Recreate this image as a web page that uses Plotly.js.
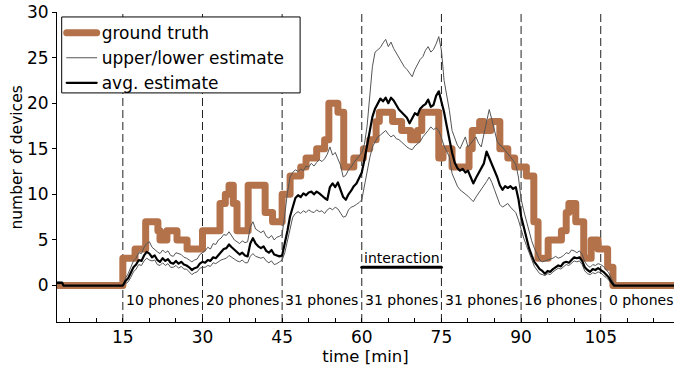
<!DOCTYPE html>
<html>
<head>
<meta charset="utf-8">
<script src="https://cdn.plot.ly/plotly-3.0.1.min.js"></script>
<style>
  html, body { margin: 0; padding: 0; background: #fff; }
  #chart { width: 674px; height: 373px; }
  #chart path.js-line { stroke-linejoin: round; stroke-linecap: round; }
</style>
</head>
<body>
<div id="chart"></div>
<script>
// Ground truth: number of devices present (step function, value holds until next time)
const truthTime  = [0, 15, 17.3, 19.3, 21.6, 22.0, 23.3, 25.2, 27.1, 30.0, 33.3, 34.3, 35.0, 35.8, 36.5, 38.6, 41.8, 43.2, 45.0, 46.5, 48.5, 49.5, 51.5, 53.0, 53.8, 55.5, 56.6, 58.5, 60.3, 61.5, 62.7, 63.3, 65.8, 67.5, 69.2, 70.5, 71.3, 74.5, 75.3, 77.0, 80.2, 80.8, 82.2, 83.0, 84.3, 86.0, 87.5, 88.8, 91.0, 92.4, 93.2, 95.1, 97.6, 98.5, 99.0, 100.3, 101.8, 103.2, 104.5, 106.3, 107.3, 118.8];
const truthCount = [0, 3, 4, 7, 6, 5, 6, 5, 4, 6, 9, 10, 11, 9, 6, 11, 8, 7, 10, 12, 13, 14, 15, 16, 20, 19, 13, 14, 15, 16, 18, 19, 18, 17, 16, 17, 19, 14, 15, 13, 15, 17, 18, 17, 18, 15, 14, 13, 12, 7, 3, 5, 6, 8, 9, 7, 3, 5, 4, 2, 0, 0];

// Sampling times of the estimates [min]
const estTime = [2.6, 3.6, 3.8, 9.0, 14.5,
  15.0, 15.5, 16.0, 16.5, 17.0, 17.5, 18.0, 18.5, 19.0, 19.5, 20.0, 20.5, 21.0, 21.5, 22.0, 22.5, 23.0, 23.5, 24.0, 24.5,
  25.0, 25.5, 26.0, 26.5, 27.0, 27.5, 28.0, 28.5, 29.0, 29.5, 30.0, 30.5, 31.0, 31.5, 32.0, 32.5, 33.0, 33.5, 34.0, 34.5,
  35.0, 35.5, 36.0, 36.5, 37.0, 37.5, 38.0, 38.5, 39.0, 39.5, 40.0, 40.5, 41.0, 41.5, 42.0, 42.5, 43.0, 43.5, 44.0, 44.5,
  45.0, 45.5, 46.0, 46.5, 47.0, 47.5, 48.0, 48.5, 49.0, 49.5, 50.0, 50.5, 51.0, 51.5, 52.0, 52.5, 53.0, 53.5, 54.0, 54.5,
  55.0, 55.5, 56.0, 56.5, 57.0, 57.5, 58.0, 58.5, 59.0, 59.5, 60.0, 60.5, 61.0, 61.5, 62.0, 62.5, 63.0, 63.5, 64.0, 64.5,
  65.0, 65.5, 66.0, 66.5, 67.0, 67.5, 68.0, 68.5, 69.0, 69.5, 70.0, 70.5, 71.0, 71.5, 72.0, 72.5, 73.0, 73.5, 74.0, 74.5,
  75.0, 75.5, 76.0, 76.5, 77.0, 77.5, 78.0, 78.5, 79.0, 79.5, 80.0, 80.5, 81.0, 81.5, 82.0, 82.5, 83.0, 83.5, 84.0, 84.5,
  85.0, 85.5, 86.0, 86.5, 87.0, 87.5, 88.0, 88.5, 89.0, 89.5, 90.0, 90.5, 91.0, 91.5, 92.0, 92.5, 93.0, 93.5, 94.0, 94.5,
  95.0, 95.5, 96.0, 96.5, 97.0, 97.5, 98.0, 98.5, 99.0, 99.5, 100.0, 100.5, 101.0, 101.5, 102.0, 102.5, 103.0, 103.5, 104.0, 104.5,
  105.0, 105.5, 106.0, 106.5, 107.0, 107.5, 108.0, 118.8];

const avgEstimate = [0.3, 0.3, 0, 0, 0,
  0.0, 0.5, 0.8, 1.4, 2.0, 2.3, 2.8, 2.7, 3.3, 3.7, 3.5, 3.1, 3.3, 2.8, 2.6, 3.0, 2.7, 2.9, 2.5, 2.4,
  2.7, 2.4, 2.6, 2.3, 2.2, 2.0, 1.7, 1.9, 2.0, 2.4, 2.6, 2.5, 2.8, 2.7, 3.1, 3.0, 3.3, 3.6, 4.0, 4.1,
  4.5, 4.2, 3.9, 3.6, 3.4, 3.6, 3.3, 3.2, 4.6, 5.2, 4.6, 4.3, 4.1, 4.3, 3.8, 3.6, 3.9, 3.4, 3.3, 3.2,
  3.3, 4.6, 6.0, 7.6, 8.6, 9.6, 9.9, 9.7, 10.1, 9.9, 10.2, 10.3, 10.0, 10.3, 10.1, 9.8, 9.6, 9.4, 10.8, 11.2,
  10.8, 11.3, 10.6, 9.7, 9.4, 10.0, 10.4, 10.9, 11.2, 11.8, 12.4, 13.8, 15.3, 16.6, 18.5, 19.4, 19.9, 20.5, 20.2, 20.6,
  20.0, 20.6, 20.3, 19.8, 19.3, 19.0, 18.7, 18.4, 17.8, 18.3, 18.9, 18.7, 19.4, 19.7, 19.9, 20.4, 19.6, 19.8, 20.8, 21.3,
  20.2, 19.0, 17.5, 16.0, 14.6, 13.5, 12.9, 12.6, 12.8, 12.4, 12.6, 11.9, 11.2, 11.8, 12.3, 12.9, 13.4, 14.7, 14.0, 13.4,
  12.5, 11.9, 11.0, 10.5, 10.9, 10.7, 10.9, 10.6, 10.8, 9.5, 7.6, 6.4, 5.2, 4.1, 3.3, 2.6, 2.2, 1.8, 1.6, 1.3,
  1.6, 1.5, 1.8, 2.0, 2.2, 2.1, 2.5, 2.6, 2.5, 2.8, 3.1, 3.0, 3.1, 2.7, 2.0, 1.7, 1.5, 1.8, 1.7, 1.9,
  1.7, 1.5, 1.2, 0.9, 0.4, 0.0, 0.0, 0.0];

const upperEstimate = [0.4, 0.4, 0, 0, 0,
  0.0, 0.8, 1.3, 2.0, 2.7, 3.0, 3.6, 3.5, 4.2, 4.6, 4.8, 4.2, 4.0, 3.7, 3.5, 3.9, 3.6, 3.8, 3.3, 3.2,
  3.6, 3.5, 3.4, 3.1, 3.0, 2.8, 2.6, 2.8, 2.9, 3.4, 3.6, 3.8, 4.2, 4.0, 4.6, 4.5, 5.0, 5.2, 5.6, 5.5,
  5.9, 5.5, 5.0, 4.8, 4.6, 4.9, 4.7, 4.8, 6.4, 7.0, 6.2, 6.0, 5.8, 6.0, 5.4, 5.2, 5.5, 5.0, 5.3, 5.4,
  5.6, 7.8, 10.2, 11.9, 12.4, 12.7, 12.5, 12.8, 12.6, 13.1, 13.0, 13.4, 13.1, 13.5, 13.8, 13.6, 13.9, 14.4, 15.2, 14.3,
  14.6, 13.9, 13.2, 11.9, 12.1, 12.7, 13.0, 13.5, 13.8, 14.2, 14.6, 15.5, 17.5, 20.5, 24.0, 25.6, 25.9, 26.1, 26.6, 27.0,
  26.2, 26.7, 26.0, 25.5, 25.1, 24.6, 24.0, 23.7, 23.3, 22.9, 23.7, 24.2, 24.8, 25.1, 25.8, 26.2, 25.6, 25.9, 26.5, 27.3,
  25.8, 22.5, 20.8, 19.2, 17.0, 16.3, 15.4, 15.0, 15.6, 16.3, 15.2, 15.6, 15.9, 16.3, 15.6, 15.2, 16.6, 18.0, 19.3, 18.2,
  16.8, 15.8, 15.4, 15.2, 14.8, 14.5, 14.1, 13.7, 13.3, 11.9, 9.5, 8.2, 7.0, 6.1, 4.9, 4.1, 3.4, 2.8, 2.6, 2.7,
  2.8, 2.9, 3.0, 3.2, 3.0, 3.1, 3.3, 3.6, 3.5, 3.9, 3.8, 3.6, 3.8, 3.4, 2.6, 2.2, 2.0, 2.3, 2.2, 2.4,
  2.3, 2.1, 1.8, 1.4, 0.8, 0.2, 0.0, 0.0];

const lowerEstimate = [0.2, 0.2, 0, 0, 0,
  0.0, 0.2, 0.4, 0.9, 1.5, 1.8, 2.3, 2.2, 2.7, 3.0, 2.8, 2.7, 2.8, 2.3, 2.2, 2.5, 2.2, 2.4, 2.0, 2.0,
  2.2, 1.9, 2.1, 1.8, 1.8, 1.5, 1.2, 1.4, 1.5, 1.9, 2.0, 2.0, 2.2, 2.1, 2.5, 2.4, 2.6, 2.8, 2.9, 3.0,
  3.3, 3.1, 2.9, 2.7, 2.6, 2.8, 2.5, 2.5, 3.2, 3.5, 3.2, 3.1, 3.0, 3.1, 2.7, 2.5, 2.7, 2.3, 2.4, 2.6,
  2.8, 3.6, 5.0, 6.5, 7.5, 7.9, 8.1, 7.9, 8.2, 8.0, 8.3, 8.1, 8.0, 8.3, 8.1, 8.2, 7.9, 8.3, 8.5, 8.3,
  8.6, 8.4, 8.0, 7.5, 7.6, 8.3, 8.6, 8.7, 8.9, 9.1, 9.4, 11.0, 12.7, 14.0, 15.2, 15.8, 16.3, 16.5, 16.8, 17.0,
  16.6, 16.3, 16.5, 16.1, 16.0, 15.7, 15.4, 15.2, 15.0, 14.9, 15.3, 15.6, 15.8, 16.3, 16.6, 17.0, 17.4, 17.1, 17.3, 17.0,
  16.2, 15.3, 14.7, 14.1, 12.3, 11.6, 10.9, 10.5, 10.3, 10.1, 9.8, 9.5, 9.2, 9.7, 10.1, 10.5, 11.0, 11.4, 11.9, 11.3,
  10.5, 9.6, 8.9, 8.6, 8.8, 9.0, 8.6, 8.3, 8.0, 7.2, 6.1, 5.2, 4.4, 3.6, 2.8, 2.1, 1.7, 1.3, 1.2, 1.1,
  1.3, 1.2, 1.5, 1.7, 1.9, 1.8, 2.1, 2.3, 2.2, 2.5, 2.7, 2.6, 2.7, 2.3, 1.6, 1.3, 1.2, 1.4, 1.3, 1.5,
  1.4, 1.1, 0.9, 0.6, 0.2, 0.0, 0.0, 0.0];

// Experiment phases: boundaries [min] and phones carried in each phase
const phaseBounds = [15, 30, 45, 60, 75, 90, 105, 120];
const phonesPerPhase = [10, 20, 31, 31, 31, 16, 0];

// Interaction period
const interactionSpan = [60, 75];
const interactionLevel = 2;

// Axis ticks
const xTickVals = [15, 30, 45, 60, 75, 90, 105];
const yTickVals = [0, 5, 10, 15, 20, 25, 30];

const FONT = 'DejaVu Sans, sans-serif';
const BROWN = '#b4724b';
const GREY = '#555555';

const traces = [
  {
    x: truthTime, y: truthCount, type: 'scatter', mode: 'lines',
    line: { color: BROWN, width: 7, shape: 'hv' },
    name: 'ground truth', legendrank: 1
  },
  {
    x: estTime, y: upperEstimate, type: 'scatter', mode: 'lines',
    line: { color: GREY, width: 1 },
    name: 'upper/lower estimate', legendrank: 2
  },
  {
    x: estTime, y: lowerEstimate, type: 'scatter', mode: 'lines',
    line: { color: GREY, width: 1 },
    name: 'upper/lower estimate', showlegend: false
  },
  {
    x: estTime, y: avgEstimate, type: 'scatter', mode: 'lines',
    line: { color: '#000000', width: 2.2 },
    name: 'avg. estimate', legendrank: 3
  },
  {
    x: interactionSpan, y: [interactionLevel, interactionLevel], type: 'scatter', mode: 'lines',
    line: { color: '#000000', width: 3 },
    showlegend: false, hoverinfo: 'skip'
  }
];

// Dashed phase separators
const shapes = phaseBounds.slice(0, -1).map(b => ({
  type: 'line', xref: 'x', yref: 'paper', x0: b, x1: b, y0: 0, y1: 1,
  line: { color: '#222222', width: 1, dash: '8px,4px' }, layer: 'below'
}));
// Framed white panel behind the legend entries
shapes.push({
  type: 'rect', xref: 'paper', yref: 'paper',
  x0: 0.0076, x1: 0.394, y0: 0.739, y1: 0.984,
  fillcolor: '#ffffff', line: { color: '#000000', width: 1 }, layer: 'above'
});

// Phase labels under the curves
const annotations = phonesPerPhase.map((n, i) => ({
  x: (phaseBounds[i] + phaseBounds[i + 1]) / 2, y: -1.6, xref: 'x', yref: 'y',
  text: n + ' phones', showarrow: false,
  font: { family: FONT, size: 14, color: '#000' }
}));
annotations.push({
  x: (interactionSpan[0] + interactionSpan[1]) / 2, y: interactionLevel + 1.0, xref: 'x', yref: 'y',
  text: 'interaction', showarrow: false,
  font: { family: FONT, size: 14, color: '#000' }
});
// Vertical axis title
annotations.push({
  x: -0.0656, y: 0.529, xref: 'paper', yref: 'paper',
  xanchor: 'center', yanchor: 'middle', textangle: -90,
  text: 'number of devices', showarrow: false,
  font: { family: FONT, size: 15.5, color: '#000' }
});

const layout = {
  width: 674, height: 373,
  margin: { l: 57, r: 0, t: 12, b: 51 },
  paper_bgcolor: '#ffffff', plot_bgcolor: '#ffffff',
  font: { family: FONT, size: 17, color: '#000' },
  showlegend: true,
  legend: {
    x: 0.0076, y: 0.990, xanchor: 'left', yanchor: 'top',
    bgcolor: 'rgba(0,0,0,0)', borderwidth: 0,
    font: { family: FONT, size: 17, color: '#000' },
    tracegroupgap: 0
  },
  xaxis: {
    range: [2.6, 118.8],
    tickvals: xTickVals, ticks: 'inside', ticklen: 4, tickcolor: '#000',
    minor: { dtick: 5, tick0: 0, ticks: 'inside', ticklen: 4, tickcolor: '#000' },
    showline: true, linecolor: '#000', linewidth: 1, mirror: false,
    showgrid: false, zeroline: false,
    tickfont: { family: FONT, size: 17, color: '#000' },
    title: { text: 'time [min]', font: { family: FONT, size: 16.5, color: '#000' }, standoff: 4 }
  },
  yaxis: {
    range: [-4, 30],
    tickvals: yTickVals, ticks: 'outside', ticklen: 4, tickcolor: '#000',
    showline: true, linecolor: '#000', linewidth: 1, mirror: false,
    showgrid: false, zeroline: false,
    tickfont: { family: FONT, size: 17, color: '#000' }
  },
  shapes: shapes,
  annotations: annotations
};

Plotly.newPlot('chart', traces, layout, { displayModeBar: false, staticPlot: true });
</script>
</body>
</html>
